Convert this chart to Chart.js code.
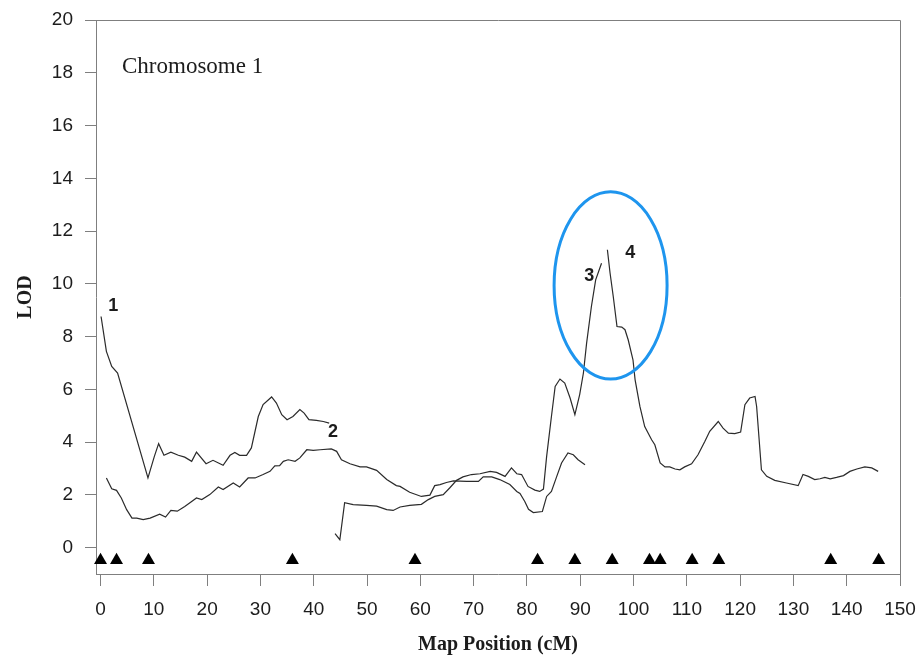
<!DOCTYPE html>
<html>
<head>
<meta charset="utf-8">
<script src="https://cdn.jsdelivr.net/npm/chart.js@4/dist/chart.umd.min.js"></script>
<style>
  html, body { margin: 0; padding: 0; background: #ffffff; }
  #wrap { width: 921px; height: 665px; }
</style>
</head>
<body>
<div id="wrap"><canvas id="c" width="921" height="665"></canvas></div>
<script>
// Axis tick values
const xTicks = [0, 10, 20, 30, 40, 50, 60, 70, 80, 90, 100, 110, 120, 130, 140, 150];
const yTicks = [0, 2, 4, 6, 8, 10, 12, 14, 16, 18, 20];

// LOD profile 1 (map position cM, LOD)
const lod1X = [0.1, 1.1, 2.1, 3.2, 8.9, 10.1, 10.9, 11.9, 13.2, 14.6, 15.8, 17.1, 18.0, 19.8, 21.1, 23.0, 24.3, 25.2, 26.1, 27.4, 28.3, 29.6, 30.5, 32.1, 33.0, 34.0, 35.0, 36.1, 37.4, 38.2, 39.1, 40.5, 41.8, 42.9];
const lod1Y = [8.76, 7.44, 6.87, 6.62, 2.64, 3.46, 3.94, 3.50, 3.62, 3.50, 3.43, 3.27, 3.62, 3.18, 3.31, 3.12, 3.50, 3.61, 3.50, 3.50, 3.78, 4.97, 5.42, 5.71, 5.48, 5.04, 4.85, 4.97, 5.23, 5.10, 4.85, 4.82, 4.78, 4.72];

// LOD profile 2
const lod2X = [1.1, 2.1, 3.0, 3.9, 4.9, 5.9, 6.8, 8.0, 9.3, 11.1, 12.2, 13.2, 14.4, 15.8, 17.1, 18.0, 19.0, 20.5, 22.1, 23.0, 24.9, 26.1, 27.7, 29.0, 30.5, 31.8, 32.7, 33.6, 34.3, 35.2, 36.5, 37.4, 38.7, 39.9, 41.2, 43.3, 44.3, 45.2, 46.8, 48.7, 49.9, 51.8, 53.7, 55.5, 56.2, 58.0, 60.2, 61.8, 62.7, 63.7, 64.9, 66.2, 68.7, 70.9, 71.8, 73.4, 74.9, 76.8, 78.1, 78.7, 79.6, 80.3, 81.2, 82.9, 83.7, 84.6, 85.6, 86.5, 87.7, 88.7, 89.6, 90.9];
const lod2Y = [2.64, 2.23, 2.17, 1.88, 1.44, 1.12, 1.12, 1.06, 1.12, 1.27, 1.16, 1.41, 1.38, 1.56, 1.75, 1.88, 1.82, 2.01, 2.30, 2.20, 2.45, 2.30, 2.64, 2.64, 2.77, 2.89, 3.10, 3.11, 3.27, 3.33, 3.27, 3.40, 3.71, 3.69, 3.71, 3.74, 3.65, 3.33, 3.18, 3.06, 3.06, 2.93, 2.58, 2.35, 2.32, 2.10, 1.94, 1.99, 2.35, 2.39, 2.47, 2.53, 2.51, 2.51, 2.68, 2.68, 2.58, 2.39, 2.13, 2.05, 1.75, 1.45, 1.33, 1.37, 1.94, 2.13, 2.70, 3.21, 3.59, 3.52, 3.33, 3.14];

// LOD profile 3
const lod3X = [44.0, 44.9, 45.8, 47.4, 49.9, 51.8, 53.7, 54.9, 56.2, 58.0, 60.2, 61.5, 62.7, 64.3, 65.5, 66.8, 68.0, 69.6, 71.2, 73.1, 74.3, 75.9, 77.1, 78.1, 79.0, 80.2, 81.5, 82.4, 83.1, 83.7, 84.6, 85.3, 86.2, 87.1, 88.1, 89.0, 89.9, 90.6, 91.2, 92.1, 92.9, 94.0];
const lod3Y = [0.53, 0.30, 1.70, 1.63, 1.60, 1.57, 1.44, 1.41, 1.54, 1.60, 1.64, 1.82, 1.94, 2.01, 2.26, 2.55, 2.68, 2.77, 2.80, 2.89, 2.85, 2.70, 3.02, 2.80, 2.77, 2.32, 2.18, 2.13, 2.22, 3.46, 4.97, 6.11, 6.39, 6.24, 5.67, 5.04, 5.80, 6.62, 7.75, 9.14, 10.15, 10.78];

// LOD profile 4
const lod4X = [95.1, 95.6, 96.2, 96.9, 97.8, 98.4, 99.0, 99.9, 100.3, 101.2, 102.1, 103.4, 104.0, 105.0, 105.9, 106.8, 107.8, 108.7, 109.6, 110.9, 112.1, 113.4, 114.3, 115.9, 116.8, 117.8, 119.0, 120.1, 120.9, 121.8, 122.8, 123.1, 124.0, 125.0, 126.5, 128.7, 130.9, 131.8, 132.8, 134.0, 135.0, 135.9, 136.9, 138.1, 139.4, 140.6, 141.9, 143.4, 144.7, 145.9];
const lod4Y = [11.29, 10.41, 9.52, 8.38, 8.36, 8.26, 7.88, 7.12, 6.36, 5.35, 4.59, 4.09, 3.90, 3.21, 3.06, 3.06, 2.98, 2.95, 3.06, 3.18, 3.52, 4.03, 4.41, 4.78, 4.53, 4.34, 4.32, 4.38, 5.42, 5.67, 5.73, 5.35, 2.95, 2.70, 2.55, 2.45, 2.35, 2.77, 2.70, 2.58, 2.61, 2.66, 2.61, 2.66, 2.73, 2.89, 2.98, 3.06, 3.02, 2.89];

// Marker loci along the chromosome (cM)
const markerCM = [0, 3, 9, 36, 59, 82, 89, 96, 103, 105, 111, 116, 137, 146];

// Profile labels and where they sit (cM, LOD)
const profileNames = ['1', '2', '3', '4'];
const profileLabelX = [2.4, 43.6, 91.7, 99.4];
const profileLabelY = [9.17, 4.40, 10.31, 11.18];

// Highlighted peak region (cM, LOD, half-width cM, half-height LOD)
const peakCenter = [95.7, 9.94];
const peakHalfSize = [10.6, 3.55];

const MARKER_LEVEL = -0.48;
const AXIS_GREY = '#7f7f7f';
const TEXT_DARK = '#1c1c1c';

function pairs(xs, ys) { return xs.map((x, i) => ({ x: x, y: ys[i] })); }

function profileDataset(xs, ys) {
  return {
    data: pairs(xs, ys),
    showLine: true,
    borderColor: '#2b2b2b',
    borderWidth: 1.2,
    pointRadius: 0,
    tension: 0,
    fill: false
  };
}

const decorPlugin = {
  id: 'decor',
  afterDatasetsDraw(chart) {
    const { ctx, chartArea: a, scales: { x, y } } = chart;
    ctx.save();
    // frame: top and right edges
    ctx.strokeStyle = AXIS_GREY;
    ctx.lineWidth = 1;
    ctx.beginPath();
    ctx.moveTo(Math.round(a.left) + 0.5, Math.round(a.top) + 0.5);
    ctx.lineTo(Math.round(a.right) + 0.5, Math.round(a.top) + 0.5);
    ctx.lineTo(Math.round(a.right) + 0.5, Math.round(a.bottom) + 0.5);
    ctx.stroke();

    // chromosome caption
    ctx.fillStyle = TEXT_DARK;
    ctx.font = '23px "Liberation Serif"';
    ctx.textAlign = 'left';
    ctx.textBaseline = 'alphabetic';
    ctx.fillText('Chromosome 1', 122, 73);

    // profile numbers
    ctx.font = 'bold 18px "Liberation Sans"';
    ctx.textAlign = 'center';
    ctx.textBaseline = 'middle';
    profileNames.forEach((t, i) => {
      ctx.fillText(t, x.getPixelForValue(profileLabelX[i]), y.getPixelForValue(profileLabelY[i]));
    });

    // peak outline
    const cx = x.getPixelForValue(peakCenter[0]);
    const cy = y.getPixelForValue(peakCenter[1]);
    const rx = Math.abs(x.getPixelForValue(peakCenter[0] + peakHalfSize[0]) - cx);
    const ry = Math.abs(y.getPixelForValue(peakCenter[1] + peakHalfSize[1]) - cy);
    ctx.strokeStyle = '#1e95ee';
    ctx.lineWidth = 3;
    ctx.beginPath();
    ctx.ellipse(cx, cy, rx, ry, 0, 0, Math.PI * 2);
    ctx.stroke();
    ctx.restore();
  }
};

new Chart(document.getElementById('c'), {
  type: 'scatter',
  data: {
    datasets: [
      profileDataset(lod1X, lod1Y),
      profileDataset(lod2X, lod2Y),
      profileDataset(lod3X, lod3Y),
      profileDataset(lod4X, lod4Y),
      {
        data: markerCM.map(v => ({ x: v, y: MARKER_LEVEL })),
        showLine: false,
        pointStyle: 'triangle',
        pointRadius: 7.5,
        pointBackgroundColor: '#000000',
        pointBorderWidth: 0,
        clip: false
      }
    ]
  },
  options: {
    responsive: false,
    animation: false,
    devicePixelRatio: 1,
    layout: { padding: { left: 0, right: 21, top: 20, bottom: 0 } },
    plugins: { legend: { display: false }, tooltip: { enabled: false } },
    scales: {
      x: {
        type: 'linear',
        min: -0.85,
        max: 150,
        afterBuildTicks: s => { s.ticks = xTicks.map(v => ({ value: v })); },
        afterFit: s => { s.height = 91; s.paddingLeft = 0; s.paddingRight = 0; },
        grid: { drawOnChartArea: false, drawTicks: true, tickLength: 12, color: AXIS_GREY, lineWidth: 1 },
        border: { color: AXIS_GREY, width: 1 },
        ticks: {
          padding: 12,
          color: TEXT_DARK,
          maxRotation: 0,
          autoSkip: false,
          font: { family: 'Liberation Sans', size: 19 }
        },
        title: {
          display: true,
          text: 'Map Position (cM)',
          color: TEXT_DARK,
          font: { family: 'Liberation Serif', size: 20, weight: 'bold' },
          padding: { top: 0, bottom: 8 }
        }
      },
      y: {
        type: 'linear',
        min: -1,
        max: 20,
        afterBuildTicks: s => { s.ticks = yTicks.map(v => ({ value: v })); },
        afterFit: s => { s.width = 96; s.paddingTop = 0; s.paddingBottom = 0; },
        grid: { drawOnChartArea: false, drawTicks: true, tickLength: 11, color: AXIS_GREY, lineWidth: 1 },
        border: { color: AXIS_GREY, width: 1 },
        ticks: {
          padding: 12,
          color: TEXT_DARK,
          font: { family: 'Liberation Sans', size: 19 }
        },
        title: {
          display: true,
          text: 'LOD',
          color: TEXT_DARK,
          font: { family: 'Liberation Serif', size: 20, weight: 'bold' },
          padding: { top: 14, bottom: 0 }
        }
      }
    }
  },
  plugins: [decorPlugin]
});
</script>
</body>
</html>
